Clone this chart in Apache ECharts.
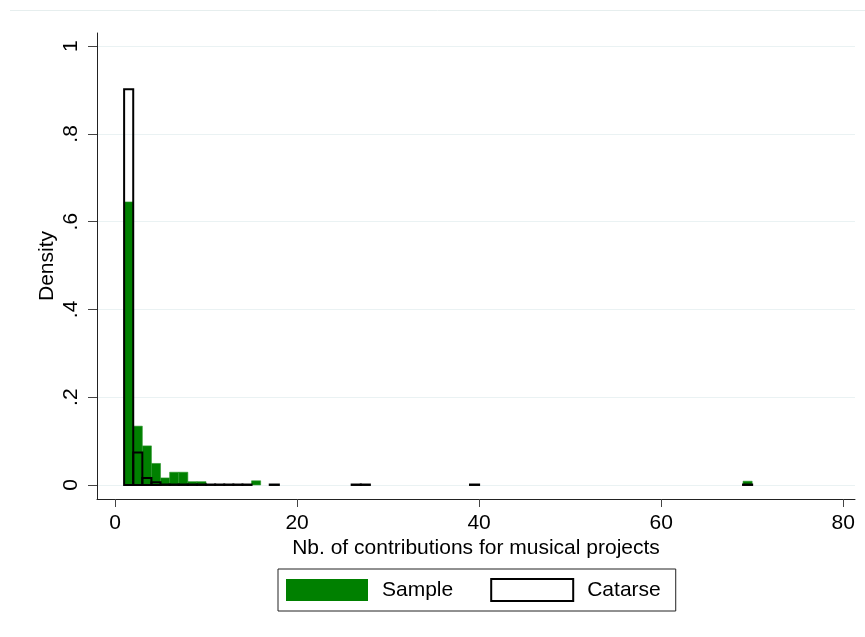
<!DOCTYPE html>
<html>
<head>
<meta charset="utf-8">
<script src="https://cdn.jsdelivr.net/npm/echarts@6/dist/echarts.min.js"></script>
<style>
  html, body { margin: 0; padding: 0; background: #fff; }
  #chart { width: 865px; height: 637px; }
</style>
</head>
<body>
<div id="chart"></div>
<script>
// histogram bins (left edge, width 1) and densities
const sampleBins = [1, 2, 3, 4, 5, 6, 7, 8, 9, 15, 69];
const sampleDensity = [0.645, 0.134, 0.089, 0.049, 0.016, 0.029, 0.029, 0.0075, 0.0075, 0.0095, 0.0085];

const catarseBins = [1, 2, 3, 4, 5, 6, 7, 8, 9, 10, 11, 12, 13, 14, 17, 26, 27, 39, 69];
const catarseDensity = [0.902, 0.074, 0.016, 0.006, 0.001, 0.001, 0.001, 0.001, 0.001, 0.001,
  0.001, 0.001, 0.001, 0.001, 0.001, 0.001, 0.001, 0.001, 0.001];

const xTicks = [0, 20, 40, 60, 80];
const yTicks = [0, 0.2, 0.4, 0.6, 0.8, 1];
const yTickLabels = ["0", ".2", ".4", ".6", ".8", "1"];

const font = "'Liberation Sans', Arial, sans-serif";
const chart = echarts.init(document.getElementById("chart"));

function histBars(fill, stroke, lw) {
  return function (params, api) {
    const x0 = api.value(0);
    const h = api.value(1);
    const p0 = api.coord([x0, h]);
    const p1 = api.coord([x0 + 1, 0]);
    return {
      type: "rect",
      shape: { x: p0[0], y: p0[1], width: p1[0] - p0[0], height: p1[1] - p0[1] },
      style: { fill: fill, stroke: stroke, lineWidth: lw }
    };
  };
}

const option = {
  animation: false,
  backgroundColor: "#fff",
  graphic: [{
    type: "line",
    shape: { x1: 10, y1: 10.5, x2: 865, y2: 10.5 },
    style: { stroke: "#e6eeee", lineWidth: 1 }
  }],
  grid: { left: 97, right: 10, top: 33, bottom: 138 },
  legend: {
    left: 278, top: 569,
    orient: "horizontal",
    padding: [9, 15, 9, 8],
    borderColor: "#222", borderWidth: 1,
    itemWidth: 82, itemHeight: 22, itemGap: 37,
    textStyle: { fontFamily: font, fontSize: 21, color: "#000", padding: [0, 0, 0, 9] },
    data: [
      { name: "Sample", icon: "rect", itemStyle: { color: "#008000", borderWidth: 0 } },
      { name: "Catarse", icon: "rect", itemStyle: { color: "#fff", borderColor: "#000", borderWidth: 2 } }
    ]
  },
  xAxis: {
    type: "value",
    min: -1.98, max: 81.3,
    name: "Nb. of contributions for musical projects",
    nameLocation: "middle", nameGap: 39, nameMoveOverlap: false,
    nameTextStyle: { fontFamily: font, fontSize: 21, color: "#000" },
    axisLine: { show: true, onZero: false, lineStyle: { color: "#222", width: 1 } },
    axisTick: { show: true, length: 8, customValues: xTicks, lineStyle: { color: "#444" } },
    axisLabel: { customValues: xTicks, margin: 14, fontFamily: font, fontSize: 21, color: "#000" },
    splitLine: { show: false }
  },
  yAxis: {
    type: "value",
    min: -0.032, max: 1.03,
    name: "Density",
    nameLocation: "middle", nameGap: 39, nameRotate: 90, nameMoveOverlap: false,
    nameTextStyle: { fontFamily: font, fontSize: 21, color: "#000" },
    axisLine: { show: true, onZero: false, lineStyle: { color: "#222", width: 1 } },
    axisTick: { show: true, length: 9, customValues: yTicks, lineStyle: { color: "#444" } },
    axisLabel: {
      customValues: yTicks, rotate: 90, margin: 15,
      fontFamily: font, fontSize: 21, color: "#000",
      formatter: function (v) {
        const i = yTicks.findIndex(t => Math.abs(t - v) < 1e-9);
        return i >= 0 ? yTickLabels[i] : "";
      }
    },
    splitLine: { show: true, lineStyle: { color: "#eaf2f3", width: 1 } }
  },
  series: [
    {
      name: "Sample",
      type: "custom",
      itemStyle: { color: "#008000" },
      renderItem: histBars("#008000", "#2c962c", 0.6),
      data: sampleBins.map((b, i) => [b, sampleDensity[i]])
    },
    {
      name: "Catarse",
      type: "custom",
      itemStyle: { color: "#fff", borderColor: "#000" },
      renderItem: histBars("none", "#000", 2),
      data: catarseBins.map((b, i) => [b, catarseDensity[i]])
    }
  ]
};

chart.setOption(option);
</script>
</body>
</html>
